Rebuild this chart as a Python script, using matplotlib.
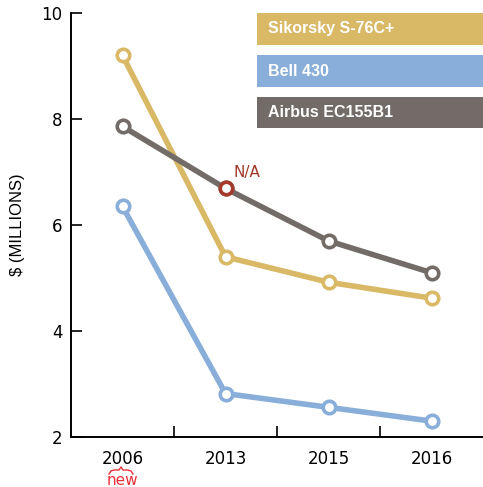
import matplotlib
matplotlib.use("Agg")
import matplotlib.pyplot as plt
from matplotlib.patches import Rectangle
from matplotlib.lines import Line2D

# ── Data ────────────────────────────────────────────────────
years = ["2006", "2013", "2015", "2016"]
sikorsky = [9.2, 5.4, 4.92, 4.62]
bell = [6.35, 2.82, 2.56, 2.3]
airbus = [7.86, 6.69, 5.7, 5.1]
na_index = 1  # Airbus 2013 value is N/A (estimated)

series_names = ["Sikorsky S-76C+", "Bell 430", "Airbus EC155B1"]
yticks = [2, 4, 6, 8, 10]

# ── Style ───────────────────────────────────────────────────
COLORS = {
    "sikorsky": "#d9b866",
    "bell":     "#88aed9",
    "airbus":   "#736b67",
    "na":       "#a33a2c",
    "new":      "#e8303a",
}
NARROW = ["Liberation Sans", "DejaVu Sans"]
W, H = 483, 487

fig = plt.figure(figsize=(W / 100, H / 100), dpi=100)
ax = fig.add_axes([71 / W, 1 - 437 / H, (W - 71) / W, (437 - 13) / H])

x = list(range(len(years)))
for vals, key in [(sikorsky, "sikorsky"), (bell, "bell"), (airbus, "airbus")]:
    ax.plot(x, vals, "-o", color=COLORS[key], linewidth=4, markersize=9,
            markerfacecolor="white", markeredgecolor=COLORS[key],
            markeredgewidth=2.6, solid_capstyle="round", zorder=3)

# N/A marker on Airbus
ax.plot(x[na_index], airbus[na_index], "o", markersize=9, markerfacecolor="white",
        markeredgecolor=COLORS["na"], markeredgewidth=2.6, zorder=4)
ax.annotate("N/A", (x[na_index], airbus[na_index]), xytext=(6, 6),
            textcoords="offset points", color=COLORS["na"], fontsize=11,
            ha="left", va="bottom")

ax.set_xlim(-0.5, len(years) - 0.5)
ax.set_ylim(2, 10)
ax.set_yticks(yticks)
ax.set_yticklabels([str(t) for t in yticks], fontsize=12)
ax.set_xticks([i + 0.5 for i in range(len(years) - 1)])
ax.set_xticklabels([])
for i, yr in enumerate(years):
    ax.text(i, -0.03, yr, transform=ax.get_xaxis_transform(), ha="center",
            va="top", fontsize=12)
ax.tick_params(direction="in", length=8, width=1.2, pad=6)

for s in ["top", "right"]:
    ax.spines[s].set_visible(False)
for s in ["left", "bottom"]:
    ax.spines[s].set_linewidth(1.4)

ax.set_ylabel("$ (MILLIONS)", fontsize=12, family=NARROW, labelpad=12)

# "new" note under 2006: small curly brace + label
bx = [109, 111, 114, 119, 121, 123, 128, 131, 133]
by = [474, 471, 470, 470, 467, 470, 470, 471, 474]
fig.lines.append(Line2D([v / W for v in bx], [1 - v / H for v in by],
                        transform=fig.transFigure, color=COLORS["new"],
                        linewidth=1.0))
ax.text(0, -0.113, "new", transform=ax.get_xaxis_transform(), ha="center",
        va="baseline", fontsize=11, color=COLORS["new"])

# Legend boxes
boxes = [(13, 45, "sikorsky"), (55, 87, "bell"), (97, 128, "airbus")]
for (top, bot, key), name in zip(boxes, series_names):
    fig.patches.append(Rectangle((257 / W, 1 - bot / H), (W - 257) / W,
                                 (bot - top) / H, transform=fig.transFigure,
                                 facecolor=COLORS[key], edgecolor="none"))
    fig.text(268 / W, 1 - (top + bot) / 2 / H, name, color="white",
             fontsize=11.5, fontweight="bold", family=NARROW, va="center",
             ha="left")

fig.savefig("out.png", dpi=100)
